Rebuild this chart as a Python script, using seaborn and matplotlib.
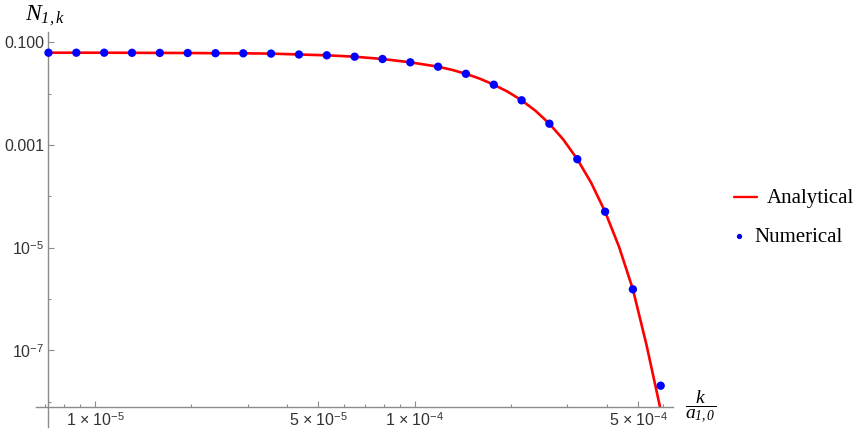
import numpy as np
import pandas as pd
import matplotlib
matplotlib.use("Agg")
import matplotlib.pyplot as plt
import seaborn as sns
from matplotlib.lines import Line2D
from matplotlib.patches import Rectangle
from matplotlib.ticker import FixedLocator, FixedFormatter, NullFormatter

# ---------------- data ----------------
k_numerical = [7.153e-6, 8.740e-6, 1.0685e-5, 1.3056e-5, 1.5951e-5, 1.9497e-5,
               2.3816e-5, 2.9089e-5, 3.5537e-5, 4.3443e-5, 5.3088e-5, 6.4868e-5,
               7.9302e-5, 9.688e-5, 1.1835e-4, 1.4459e-4, 1.7678e-4, 2.1597e-4,
               2.6384e-4, 3.2256e-4, 3.9403e-4, 4.8138e-4, 5.8808e-4]
n_numerical = [0.06272, 0.06272, 0.06272, 0.06244, 0.06216, 0.06188,
               0.06133, 0.06105, 0.06023, 0.05785, 0.05581, 0.05244,
               0.04728, 0.04077, 0.03348, 0.02435, 0.01494, 0.007421,
               0.002599, 5.291e-4, 5.024e-5, 1.548e-6, 2.054e-8]

# analytical curve, read along the red line of the reference
k_analytical = [7.153e-6, 8.740e-6, 1.0685e-5, 1.3056e-5, 1.5951e-5, 1.9497e-5,
                2.3816e-5, 2.9089e-5, 3.5537e-5, 4.3443e-5, 5.3088e-5, 6.4868e-5,
                7.9302e-5, 9.688e-5, 1.1835e-4, 1.3079e-4, 1.4459e-4, 1.5991e-4,
                1.7678e-4, 1.9535e-4, 2.1597e-4, 2.3870e-4, 2.6384e-4, 2.9171e-4,
                3.2256e-4, 3.5646e-4, 3.9403e-4, 4.3557e-4, 4.8138e-4, 5.3101e-4,
                5.851e-4, 6.087e-4]
n_analytical = [0.06272, 0.06272, 0.06272, 0.06244, 0.06216, 0.06188,
                0.06133, 0.06105, 0.06023, 0.05785, 0.05581, 0.05244,
                0.04728, 0.04077, 0.03348, 0.02907, 0.02435, 0.019545,
                0.01494, 0.010913, 0.007421, 0.0046357, 0.002599, 0.0012738,
                5.291e-4, 1.8362e-4, 5.024e-5, 1.0458e-5, 1.548e-6, 1.274e-7,
                7.97e-9, 2.818e-9]

x_major_ticks = [1e-5, 5e-5, 1e-4, 5e-4]
x_major_labels = [r"$1\,\times\,10^{-5}$", r"$5\,\times\,10^{-5}$",
                  r"$1\,\times\,10^{-4}$", r"$5\,\times\,10^{-4}$"]
x_minor_ticks = [7e-6, 8e-6, 9e-6, 2e-5, 3e-5, 4e-5, 6e-5, 7e-5, 8e-5, 9e-5,
                 2e-4, 3e-4, 4e-4, 6e-4]
y_major_ticks = [1e-1, 1e-3, 1e-5, 1e-7]
y_major_labels = ["0.100", "0.001", r"$10^{-5}$", r"$10^{-7}$"]
y_minor_ticks = [1e-2, 1e-4, 1e-6, 1e-8]
series_labels = ["Analytical", "Numerical"]
# \mathbf is mapped to an italic Times-like font so digits stay italic serif
y_axis_label = r"$N_{\mathbf{1,k}}$"
x_axis_label = r"$\dfrac{k}{a_{\mathbf{1,0}}}$"

# ---------------- style ----------------
sns.set_theme(style="white")
plt.rcParams.update({
    "font.family": ["Liberation Sans", "DejaVu Sans"],
    "mathtext.fontset": "custom",
    "mathtext.rm": "Liberation Sans",
    "mathtext.sf": "Liberation Sans",
    "mathtext.it": "Liberation Serif:italic",
    "mathtext.bf": "Liberation Serif:italic",
})

RED = "#FF0000"
BLUE = "#0000FF"
AXC = "#8c8c8c"
LABC = "#333333"

W, H = 864, 434
fig = plt.figure(figsize=(W / 100, H / 100), dpi=100)


def fx(px):
    return px / W


def fy(py):
    return 1 - py / H


ax = fig.add_axes([fx(35.7), fy(426.7), (673.3 - 35.7) / W, (426.7 - 32.5) / H])
ax.set_xscale("log")
ax.set_yscale("log")
xmin, xmax = 10 ** -5.18549, 10 ** -3.19112
ymin, ymax = 10 ** -8.4859, 10 ** -0.8092
ax.set_xlim(xmin, xmax)
ax.set_ylim(ymin, ymax)
x_cross = 10 ** -5.14607   # where the y-axis sits
y_cross = 10 ** -8.0984    # where the x-axis sits

df_a = pd.DataFrame({"k": k_analytical, "N": n_analytical})
df_n = pd.DataFrame({"k": k_numerical, "N": n_numerical})

sns.lineplot(data=df_a, x="k", y="N", ax=ax, color=RED, linewidth=1.9,
             estimator=None, sort=False, legend=False)
clip_rect = Rectangle((x_cross, y_cross), xmax - x_cross, ymax - y_cross,
                      transform=ax.transData, facecolor="none", edgecolor="none")
for ln in ax.lines:
    ln.set_clip_path(clip_rect)
    ln.set_solid_joinstyle("round")

sns.scatterplot(data=df_n, x="k", y="N", ax=ax, color=BLUE, s=36,
                edgecolor="none", linewidth=0, legend=False, zorder=3)

ax.set_xlabel("")
ax.set_ylabel("")
ax.grid(False)
ax.set_facecolor("none")
for side in ("top", "right"):
    ax.spines[side].set_visible(False)
ax.spines["left"].set_position(("data", x_cross))
ax.spines["bottom"].set_position(("data", y_cross))
for side in ("left", "bottom"):
    ax.spines[side].set_color(AXC)
    ax.spines[side].set_linewidth(1.0)

ax.xaxis.set_major_locator(FixedLocator(x_major_ticks))
ax.xaxis.set_major_formatter(FixedFormatter(x_major_labels))
ax.xaxis.set_minor_locator(FixedLocator(x_minor_ticks))
ax.xaxis.set_minor_formatter(NullFormatter())
ax.yaxis.set_major_locator(FixedLocator(y_major_ticks))
ax.yaxis.set_major_formatter(FixedFormatter(y_major_labels))
ax.yaxis.set_minor_locator(FixedLocator(y_minor_ticks))
ax.yaxis.set_minor_formatter(NullFormatter())

ax.tick_params(which="both", direction="in", color=AXC, bottom=True, left=True,
               top=False, right=False)
ax.tick_params(which="major", length=4.1, width=0.8, labelsize=11.5,
               labelcolor=LABC, pad=3)
ax.tick_params(which="minor", length=2.5, width=0.8)

# axis labels
fig.text(fx(25), fy(20), y_axis_label, fontsize=17, ha="left", va="baseline",
         color="black")
fig.text(fx(701), fy(407), x_axis_label, fontsize=14, ha="center", va="center",
         color="black")

# legend (Mathematica-style, placed to the right)
fig.add_artist(Line2D([fx(734), fx(756.7)], [fy(196.7), fy(196.7)],
                      transform=fig.transFigure, color=RED, linewidth=1.7))
fig.text(fx(766.7), fy(203.3), series_labels[0], fontsize=15,
         family=["Liberation Serif"], ha="left", va="baseline", color="black")
fig.add_artist(Line2D([fx(739.3)], [fy(236)], transform=fig.transFigure,
                      marker="o", markersize=3.8, color=BLUE, linestyle="none",
                      markeredgewidth=0))
fig.text(fx(754.3), fy(241.7), series_labels[1], fontsize=15,
         family=["Liberation Serif"], ha="left", va="baseline", color="black")

fig.savefig("out.png", dpi=100)
